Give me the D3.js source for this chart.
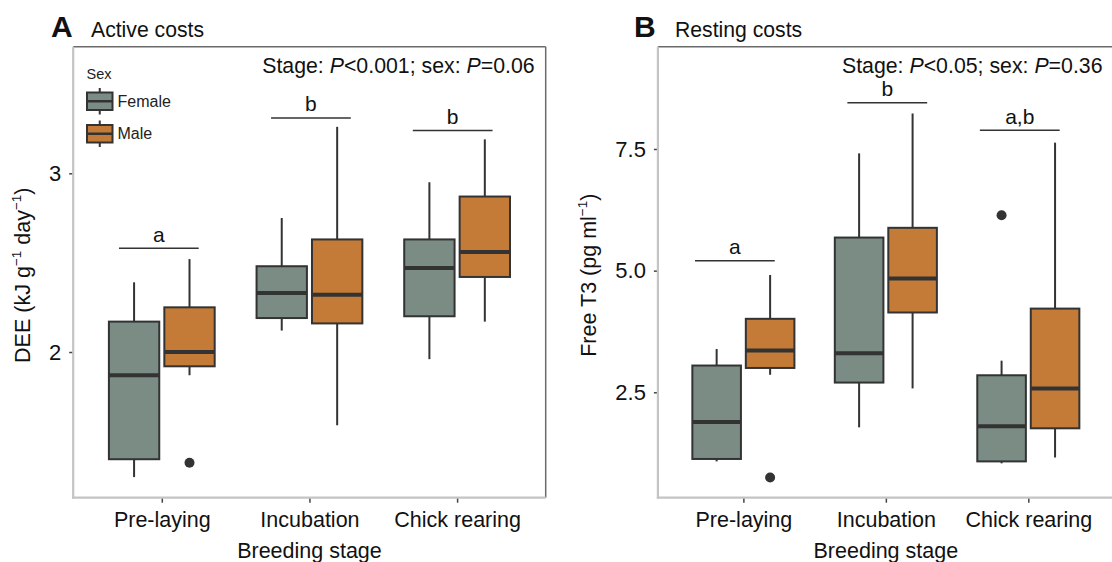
<!DOCTYPE html>
<html><head><meta charset="utf-8">
<script src="https://cdn.jsdelivr.net/npm/d3@7"></script>
<style>
html,body{margin:0;padding:0;background:#fff;}
svg{display:block;font-family:"Liberation Sans",Arial,Helvetica,sans-serif;}
</style></head>
<body><svg id="chart" width="1112" height="562"></svg>
<script>
// ---------- data ----------
const stages = ["Pre-laying", "Incubation", "Chick rearing"];
const sexes = ["Female", "Male"];
// box stats per stage: [lower whisker, Q1, median, Q3, upper whisker]
const deeFemale = [[1.30, 1.40, 1.87, 2.17, 2.39], [2.12, 2.19, 2.33, 2.48, 2.75], [1.96, 2.20, 2.47, 2.63, 2.95]];
const deeMale   = [[1.87, 1.92, 2.00, 2.25, 2.52], [1.59, 2.16, 2.32, 2.63, 3.26], [2.17, 2.42, 2.56, 2.87, 3.19]];
const deeOutliers = [{stage: 0, sex: 1, value: 1.38}];
const deeTicks = [2, 3];
const deeLetters = ["a", "b", "b"];
const deeLetterLevel = [2.58, 3.31, 3.24];
const deeLetterSpan = [[0.71, 1.25], [1.74, 2.28], [2.70, 3.24]];

const t3Female = [[1.08, 1.13, 1.89, 3.05, 3.39], [1.78, 2.70, 3.30, 5.68, 7.41], [1.04, 1.08, 1.80, 2.85, 3.15]];
const t3Male   = [[2.86, 3.00, 3.36, 4.01, 4.91], [2.58, 4.14, 4.84, 5.88, 8.23], [1.16, 1.76, 2.58, 4.22, 7.63]];
const t3Outliers = [{stage: 0, sex: 1, value: 0.75}, {stage: 2, sex: 0, value: 6.14}];
const t3Ticks = [2.5, 5.0, 7.5];
const t3Letters = ["a", "b", "a,b"];
const t3LetterLevel = [5.205, 8.451, 7.884];
const t3LetterSpan = [[0.66, 1.22], [1.73, 2.29], [2.66, 3.22]];

// ---------- style ----------
const fillColor = {Female: "#7a8c84", Male: "#c47b37"};
const ink = "#333333";
const svg = d3.select("#chart");

function panel(cfg) {
  const g = svg.append("g");
  const x = d3.scaleLinear().domain([0.4, 3.6]).range([cfg.left, cfg.right]);
  const y = d3.scaleLinear().domain(cfg.yDomain).range([cfg.bottom, cfg.top]);
  const unit = x(2) - x(1);
  const dodge = 0.1877, bw = 0.341;

  // border (top/right darker)
  g.append("line").attr("x1", cfg.left).attr("x2", cfg.right).attr("y1", cfg.top).attr("y2", cfg.top)
    .attr("stroke", "#6b6b6b").attr("stroke-width", 1.5);
  g.append("line").attr("x1", cfg.right).attr("x2", cfg.right).attr("y1", cfg.top).attr("y2", cfg.bottom)
    .attr("stroke", "#6b6b6b").attr("stroke-width", 1.5);

  // boxes
  const boxes = [];
  cfg.female.forEach((s, i) => boxes.push({stage: i, sex: "Female", s, off: -dodge}));
  cfg.male.forEach((s, i) => boxes.push({stage: i, sex: "Male", s, off: dodge}));
  boxes.forEach(b => {
    const cx = x(b.stage + 1 + b.off);
    const half = bw * unit / 2;
    const [lo, q1, md, q3, hi] = b.s;
    g.append("line").attr("x1", cx).attr("x2", cx).attr("y1", y(hi)).attr("y2", y(q3))
      .attr("stroke", ink).attr("stroke-width", 2);
    g.append("line").attr("x1", cx).attr("x2", cx).attr("y1", y(q1)).attr("y2", y(lo))
      .attr("stroke", ink).attr("stroke-width", 2);
    g.append("rect").attr("x", cx - half).attr("width", 2 * half)
      .attr("y", y(q3)).attr("height", y(q1) - y(q3))
      .attr("fill", fillColor[b.sex]).attr("stroke", ink).attr("stroke-width", 2);
    g.append("line").attr("x1", cx - half).attr("x2", cx + half).attr("y1", y(md)).attr("y2", y(md))
      .attr("stroke", ink).attr("stroke-width", 4);
  });
  cfg.outliers.forEach(o => {
    g.append("circle").attr("cx", x(o.stage + 1 + (o.sex === 0 ? -dodge : dodge))).attr("cy", y(o.value))
      .attr("r", 5).attr("fill", ink);
  });

  // significance letters
  cfg.letters.forEach((L, i) => {
    const [a, b] = cfg.letterSpan[i];
    const yy = y(cfg.letterLevel[i]);
    g.append("line").attr("x1", x(a)).attr("x2", x(b)).attr("y1", yy).attr("y2", yy)
      .attr("stroke", ink).attr("stroke-width", 1.5);
    g.append("text").attr("x", (x(a) + x(b)) / 2).attr("y", yy - 6.5).attr("text-anchor", "middle")
      .attr("font-size", 21).attr("fill", "#111").text(L);
  });

  // stats text
  const st = g.append("text").attr("x", cfg.statX).attr("y", cfg.top + 26).attr("text-anchor", "end")
    .attr("font-size", 21.3).attr("fill", "#111");
  st.append("tspan").text("Stage: ");
  st.append("tspan").attr("font-style", "italic").text("P");
  st.append("tspan").text(cfg.stage + "; sex: ");
  st.append("tspan").attr("font-style", "italic").text("P");
  st.append("tspan").text(cfg.sex);

  // y axis
  const ya = g.append("g").attr("transform", `translate(${cfg.left},0)`)
    .call(d3.axisLeft(y).tickValues(cfg.ticks).tickFormat(cfg.fmt).tickSize(4).tickPadding(8));
  ya.select(".domain").remove();
  ya.selectAll(".tick line").attr("stroke", "#444").attr("stroke-width", 1.5);
  ya.selectAll(".tick text").attr("font-size", 22).attr("fill", "#111")
    .attr("font-family", "'Liberation Sans',Arial,sans-serif");
  g.append("line").attr("x1", cfg.left).attr("x2", cfg.left).attr("y1", cfg.top).attr("y2", cfg.bottom + 1)
    .attr("stroke", "#c4c4c4").attr("stroke-width", 2.2);

  // x axis
  const xa = g.append("g").attr("transform", `translate(0,${cfg.bottom})`)
    .call(d3.axisBottom(x).tickValues([1, 2, 3]).tickFormat(d => stages[d - 1]).tickSize(5).tickPadding(9));
  xa.select(".domain").remove();
  xa.selectAll(".tick line").attr("stroke", "#444").attr("stroke-width", 1.5);
  xa.selectAll(".tick text").attr("font-size", 21.5).attr("fill", "#111")
    .attr("font-family", "'Liberation Sans',Arial,sans-serif");
  g.append("line").attr("x1", cfg.left - 1).attr("x2", cfg.right).attr("y1", cfg.bottom).attr("y2", cfg.bottom)
    .attr("stroke", "#c4c4c4").attr("stroke-width", 2.2);

  g.append("text").attr("x", x(2)).attr("y", 557.5).attr("text-anchor", "middle")
    .attr("font-size", 21.5).attr("fill", "#111").text("Breeding stage");

  // y title
  const yt = g.append("text").attr("transform", `translate(${cfg.ytX},${(cfg.top + cfg.bottom) / 2 + 3}) rotate(-90)`)
    .attr("text-anchor", "middle").attr("font-size", 21.5).attr("fill", "#111");
  cfg.ytitle.forEach(p => {
    const t = yt.append("tspan").text(p.t);
    if (p.sup) t.attr("font-size", 13.5).attr("dy", -9);
    else if (p.after) t.attr("dy", 9);
  });

  // panel title
  svg.append("text").attr("x", cfg.tagX).attr("y", 37).attr("font-size", 30).attr("font-weight", "bold")
    .attr("fill", "#111").text(cfg.tag);
  svg.append("text").attr("x", cfg.titleX).attr("y", 37).attr("font-size", 21.2)
    .attr("fill", "#111").text(cfg.title);
  return {g, x, y};
}

panel({
  left: 73.2, right: 545.7, top: 46.7, bottom: 497.7,
  yDomain: [1.1847, 3.7085], ticks: deeTicks, fmt: d3.format("d"),
  female: deeFemale, male: deeMale, outliers: deeOutliers,
  letters: deeLetters, letterLevel: deeLetterLevel, letterSpan: deeLetterSpan,
  statX: 534.6, stage: "<0.001", sex: "=0.06",
  ytX: 30, ytitle: [{t: "DEE (kJ g"}, {t: "−1", sup: true}, {t: " day", after: true}, {t: "−1", sup: true}, {t: ")", after: true}],
  tag: "A", tagX: 51, title: "Active costs", titleX: 91
});

panel({
  left: 657.9, right: 1113.8, top: 46.7, bottom: 497.7,
  yDomain: [0.334, 9.602], ticks: t3Ticks, fmt: d3.format(".1f"),
  female: t3Female, male: t3Male, outliers: t3Outliers,
  letters: t3Letters, letterLevel: t3LetterLevel, letterSpan: t3LetterSpan,
  statX: 1102.5, stage: "<0.05", sex: "=0.36",
  ytX: 596, ytitle: [{t: "Free T3 (pg ml"}, {t: "−1", sup: true}, {t: ")", after: true}],
  tag: "B", tagX: 634, title: "Resting costs", titleX: 675
});

// legend (panel A)
const leg = svg.append("g");
leg.append("text").attr("x", 86.5).attr("y", 78.5).attr("font-size", 14.5).attr("fill", "#222").text("Sex");
const keyTop = [92.5, 125];
sexes.forEach((s, i) => {
  const t = keyTop[i], h = 17.5, l = 87, w = 25.5, cx = l + w / 2;
  leg.append("line").attr("x1", cx).attr("x2", cx).attr("y1", t - 4.5).attr("y2", t + h + 4.5)
    .attr("stroke", ink).attr("stroke-width", 2);
  leg.append("rect").attr("x", l).attr("y", t).attr("width", w).attr("height", h)
    .attr("fill", fillColor[s]).attr("stroke", ink).attr("stroke-width", 2);
  leg.append("line").attr("x1", l).attr("x2", l + w).attr("y1", t + h / 2).attr("y2", t + h / 2)
    .attr("stroke", ink).attr("stroke-width", 2.5);
  leg.append("text").attr("x", 117.5).attr("y", t + h / 2 + 5.5).attr("font-size", 16).attr("fill", "#222").text(s);
});
</script></body></html>
